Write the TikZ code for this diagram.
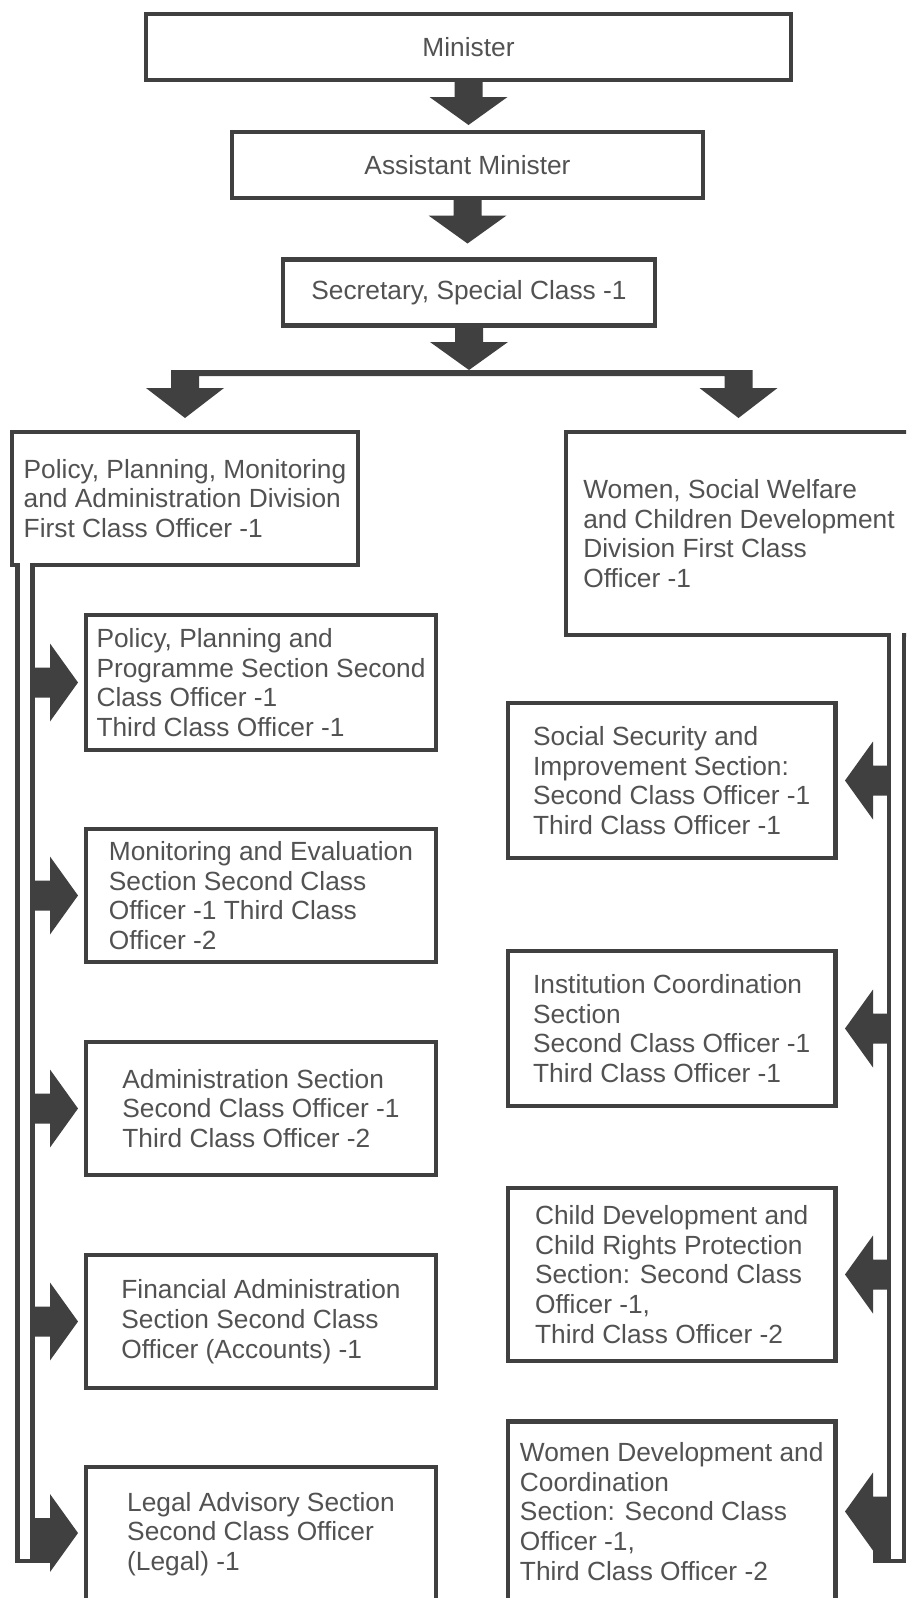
\documentclass[tikz,border=0pt]{standalone}
\usepackage{fontspec}
\setmainfont{Liberation Sans}
\usetikzlibrary{calc}
\definecolor{linec}{HTML}{404040}
\definecolor{textc}{HTML}{525252}
\newcommand\fs{\fontsize{26.3}{29.7}\selectfont}
\newcommand\darrow[2]{\fill[linec] let \p1=#1, \p2=#2 in (\x1-14pt,\y1) -- (\x1+14pt,\y1) -- (\x1+14pt,\y2+28pt) -- (\x1+39pt,\y2+28pt) -- (\x1,\y2) -- (\x1-39pt,\y2+28pt) -- (\x1-14pt,\y2+28pt) -- cycle;}
\newcommand\rarrow[2]{\fill[linec] let \p1=#1, \p2=#2 in (\x1,\y2+15pt) -- (\x2-28pt,\y2+15pt) -- (\x2-28pt,\y2+39pt) -- (\x2,\y2) -- (\x2-28pt,\y2-39pt) -- (\x2-28pt,\y2-15pt) -- (\x1,\y2-15pt) -- cycle;}
\newcommand\larrow[2]{\fill[linec] let \p1=#1, \p2=#2 in (\x1,\y2+15pt) -- (\x2+28pt,\y2+15pt) -- (\x2+28pt,\y2+39pt) -- (\x2,\y2) -- (\x2+28pt,\y2-39pt) -- (\x2+28pt,\y2-15pt) -- (\x1,\y2-15pt) -- cycle;}
\begin{document}
\begin{tikzpicture}[x=1pt,y=-1pt,
  box/.style={draw=linec, line width=4.5pt, text=textc, font=\fs, align=left, inner sep=0pt, outer sep=0pt},
  divbox/.style={box, draw=none},
  lbox/.style={box, minimum width=350pt},
  rbox/.style={box, minimum width=327.5pt},
  outline/.style={draw=linec, line width=4.5pt}]
\clip (0,0) rectangle (906,1598);
\fill[white] (0,0) rectangle (906,1598);

% top chain
\node[box, minimum width=645pt, minimum height=66pt] (Min) at (468.5,47) {Minister};
\node[box, minimum width=471pt, minimum height=66pt] (Ast) at (467.5,165) {Assistant Minister};
\node[box, minimum width=372pt, minimum height=66pt] (Sec) at (469,292.5) {Secretary, Special Class -1};

% divisions
\node[divbox, minimum width=346pt, minimum height=133pt] (Ldiv) at (185,498.5)
  {Policy, Planning, Monitoring\\and Administration Division\\First Class Officer -1};
\node[divbox, minimum width=346pt, minimum height=203pt] (Rdiv) at (739,533.5)
  {Women, Social Welfare\\and Children Development\\Division First Class\\Officer -1};

% rails
\coordinate (lrL) at (17.5,0);
\coordinate (lrR) at (32.5,0);
\coordinate (lend) at (0,1561);
\coordinate (rrL) at (889,0);
\coordinate (rrR) at (904,0);
\coordinate (rend) at (0,1561);

\draw[outline] (Ldiv.north west) -- (Ldiv.north east) -- (Ldiv.south east) -- (lrR |- Ldiv.south) -- (lrR |- lend) -- (lrL |- lend) -- (lrL |- Ldiv.south) -- (Ldiv.south west) -- cycle;
\draw[outline] (Rdiv.north east) -- (Rdiv.north west) -- (Rdiv.south west) -- (rrL |- Rdiv.south) -- (rrL |- rend) -- (rrR |- rend) -- (rrR |- Rdiv.south) -- (Rdiv.south east) -- cycle;

% left sections
\node[lbox, minimum height=135pt] (L1) at (261,682.5)
  {Policy, Planning and\\Programme Section Second\\Class Officer -1\\Third Class Officer -1};
\node[lbox, minimum height=133pt] (L2) at (261,895.5)
  {Monitoring and Evaluation\\Section Second Class\\Officer -1 Third Class\\Officer -2};
\node[lbox, minimum height=133pt] (L3) at (261,1108.5)
  {Administration Section\\Second Class Officer -1\\Third Class Officer -2};
\node[lbox, minimum height=133pt] (L4) at (261,1321.5)
  {Financial Administration\\Section Second Class\\Officer (Accounts) -1};
\node[lbox, minimum height=134pt] (L5) at (261,1534)
  {Legal Advisory Section\\Second Class Officer\\(Legal) -1};

% right sections
\node[rbox, minimum height=155pt] (R1) at (671.75,780.5)
  {Social Security and\\Improvement Section:\\Second Class Officer -1\\Third Class Officer -1};
\node[rbox, minimum height=155pt] (R2) at (671.75,1028.5)
  {Institution Coordination\\Section\\Second Class Officer -1\\Third Class Officer -1};
\node[rbox, minimum height=173pt] (R3) at (671.75,1274.5)
  {Child Development and\\Child Rights Protection\\Section: Second Class\\Officer -1,\\Third Class Officer -2};
\node[rbox, minimum height=180pt] (R4) at (671.75,1511.5)
  {Women Development and\\Coordination\\Section: Second Class\\Officer -1,\\Third Class Officer -2};

% top arrows
\darrow{(Min.south)}{([yshift=7pt]Ast.north)}
\darrow{(Ast.south)}{([yshift=16pt]Sec.north)}
\coordinate (bar) at ([yshift=-44.5pt]Sec.south);
\darrow{(Sec.south)}{(bar)}

% branching bar with two drops
\fill[linec] let \p1=(Ldiv.north), \p2=([xshift=-0.5pt]Rdiv.north), \p3=(bar) in
  (\x1-14pt,\y3) -- (\x2+14pt,\y3) -- (\x2+14pt,\y1+44pt) -- (\x2+39pt,\y1+44pt) -- (\x2,\y1+14pt)
  -- (\x2-39pt,\y1+44pt) -- (\x2-14pt,\y1+44pt) -- (\x2-14pt,\y3-6pt) -- (\x1+14pt,\y3-6pt)
  -- (\x1+14pt,\y1+44pt) -- (\x1+39pt,\y1+44pt) -- (\x1,\y1+14pt) -- (\x1-39pt,\y1+44pt)
  -- (\x1-14pt,\y1+44pt) -- cycle;

% left arrows
\rarrow{(lrR)}{([xshift=-8pt]L1.west)}
\rarrow{(lrR)}{([xshift=-8pt]L2.west)}
\rarrow{(lrR)}{([xshift=-8pt]L3.west)}
\rarrow{(lrR)}{([xshift=-8pt]L4.west)}
\rarrow{(lrR)}{([xshift=-8pt,yshift=1pt]L5.west)}
\fill[linec] let \p1=(lrR), \p2=([xshift=-8pt,yshift=1pt]L5.west), \p3=(lend) in
  (\x1,\y2) rectangle (\x2-28pt,\y3-2.25pt);

% right arrows
\larrow{(rrL)}{([xshift=9.5pt]R1.east)}
\larrow{(rrL)}{([xshift=9.5pt]R2.east)}
\larrow{(rrL)}{([xshift=9.5pt]R3.east)}
\larrow{(rrL)}{([xshift=9.5pt]R4.east)}
\fill[linec] let \p1=(rrL), \p2=([xshift=9.5pt]R4.east), \p3=(rend) in
  (\x1,\y2) rectangle (\x2+28pt,\y3-2.25pt);
\end{tikzpicture}
\end{document}
